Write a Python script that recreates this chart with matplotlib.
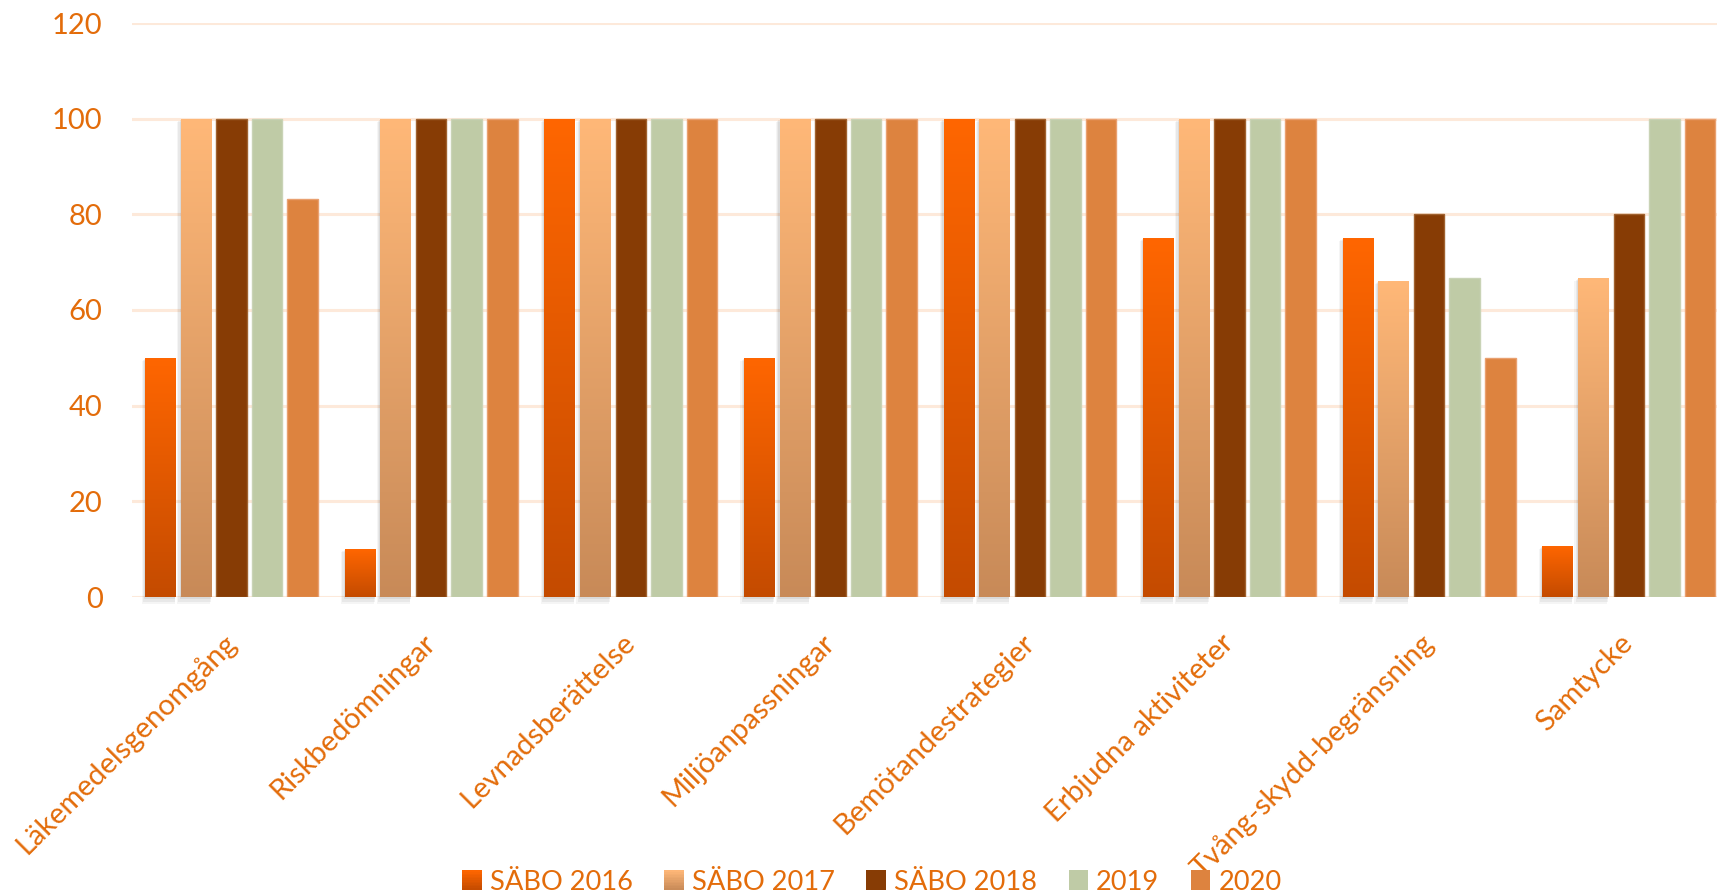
import numpy as np
import matplotlib
matplotlib.use("Agg")
import matplotlib.pyplot as plt
from matplotlib.patches import Rectangle
from matplotlib.legend_handler import HandlerBase
from matplotlib.colors import to_rgb

plt.rcParams['font.family'] = ['Lato', 'DejaVu Sans']

categories = ["Läkemedelsgenomgång", "Riskbedömningar", "Levnadsberättelse",
              "Miljöanpassningar", "Bemötandestrategier", "Erbjudna aktiviteter",
              "Tvång-skydd-begränsning", "Samtycke"]
series_names = ["SÄBO 2016", "SÄBO 2017", "SÄBO 2018", "2019", "2020"]
sabo_2016 = [50, 10, 100, 50, 100, 75, 75, 10.7]
sabo_2017 = [100, 100, 100, 100, 100, 100, 66, 66.7]
sabo_2018 = [100, 100, 100, 100, 100, 100, 80, 80]
y2019 = [100, 100, 100, 100, 100, 100, 66.7, 100]
y2020 = [83.3, 100, 100, 100, 100, 100, 50, 100]
yticks = [0, 20, 40, 60, 80, 100, 120]

series = [sabo_2016, sabo_2017, sabo_2018, y2019, y2020]
# (top colour, bottom colour) ; solid when equal
colors = [("#FF6600", "#C44B00"), ("#FFB878", "#C88A58"), ("#873C05", "#873C05"),
          ("#BFCBA6", "#BFCBA6"), ("#DD833F", "#DD833F")]
edges = [None, None, "#A0622F", "#C9D3B6", "#E9A070"]
TXT = "#E36C0A"
GRID = "#FDE9DA"

W, H = 1717, 892
catw = 199.6
left = 231.6 - catw / 2
fig = plt.figure(figsize=(W / 100, H / 100), dpi=100)
ax = fig.add_axes([left / W, 1 - 597 / H, 8 * catw / W, (597 - 23) / H])
ax.set_xlim(-0.5, len(categories) - 0.5)
ax.set_ylim(0, 120)

for sp in ax.spines.values():
    sp.set_visible(False)
ax.set_yticks(yticks)
ax.yaxis.grid(True, color=GRID, linewidth=2.2)
ax.set_axisbelow(True)
ax.tick_params(axis='y', length=0, pad=21, labelsize=21, labelcolor=TXT)

x = np.arange(len(categories))
step = 0.178
bw = 0.153
offsets = (np.arange(5) - 2) * step


def grad_img(top, bottom, n=256):
    t = np.linspace(0, 1, n)[:, None]
    c0 = np.array(to_rgb(top)); c1 = np.array(to_rgb(bottom))
    return (c0 * (1 - t) + c1 * t).reshape(n, 1, 3)


for i, (vals, (ctop, cbot), ec) in enumerate(zip(series, colors, edges)):
    gradient = ctop != cbot
    bars = ax.bar(x + offsets[i], vals, width=bw,
                  color=ctop if not gradient else "none",
                  edgecolor=ec if ec else "none", linewidth=1.0, zorder=3)
    for r in bars:
        x0, y0, w, h = r.get_x(), r.get_y(), r.get_width(), r.get_height()
        if gradient:
            for k, a in enumerate([0.06, 0.05, 0.04]):
                sh = Rectangle((x0 - 0.006 * (k + 1), y0 - 0.5 * (k + 1)),
                               w + 0.004 * (k + 1), h + 0.3 * (k + 1),
                               facecolor="#000000", alpha=a, edgecolor="none",
                               zorder=2, clip_on=False)
                ax.add_patch(sh)
            im = ax.imshow(grad_img(ctop, cbot), extent=(x0, x0 + w, y0, y0 + h),
                           aspect='auto', origin='upper', zorder=3, interpolation='bilinear')
            im.set_clip_path(r)

ax.set_xlim(-0.5, len(categories) - 0.5)
ax.set_ylim(0, 120)
ax.set_xticks(x)
ax.set_xticklabels(categories, rotation=45, ha='right', va='center',
                   rotation_mode='anchor', color=TXT, fontsize=21)
ax.tick_params(axis='x', length=0, pad=30)


class GradHandler(HandlerBase):
    def __init__(self, top, bottom):
        super().__init__()
        self.top, self.bottom = top, bottom

    def create_artists(self, legend, orig_handle, xdescent, ydescent, width, height, fontsize, trans):
        s = height * 1.0
        x0 = -xdescent + width - s
        y0 = -ydescent
        arts = []
        n = 12
        c0 = np.array(to_rgb(self.top)); c1 = np.array(to_rgb(self.bottom))
        for k in range(n):
            t = (k + 0.5) / n
            col = c0 * t + c1 * (1 - t)
            arts.append(Rectangle((x0, y0 + s * k / n), s, s / n + 0.3, facecolor=col,
                                  edgecolor='none', transform=trans))
        return arts


handles = [Rectangle((0, 0), 1, 1) for _ in series_names]
hmap = {h: GradHandler(c[0], c[1]) for h, c in zip(handles, colors)}
leg = fig.legend(handles, series_names, handler_map=hmap, loc='center',
                 bbox_to_anchor=(872 / W, 1 - 882 / H), ncol=5, frameon=False,
                 fontsize=19.6, handlelength=0.72, handleheight=0.72, handletextpad=0.3,
                 columnspacing=1.15)
for t in leg.get_texts():
    t.set_color(TXT)

fig.savefig("out.png", dpi=100, facecolor="white")
